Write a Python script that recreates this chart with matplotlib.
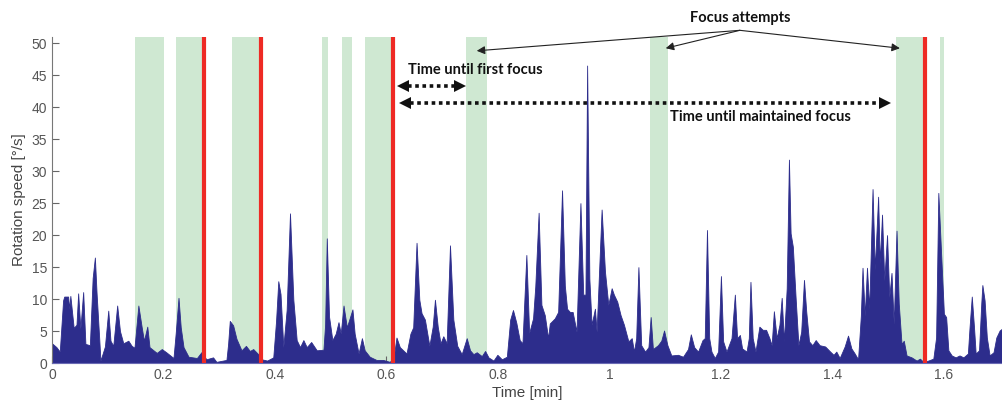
import matplotlib.pyplot as plt

# Tempo [min] e velocidade de rotacao [graus/s]
time_min = [
    0.000, 0.008, 0.014, 0.020, 0.022, 0.029, 0.031, 0.033, 0.039, 0.044,
    0.047, 0.051, 0.056, 0.060, 0.068, 0.073, 0.077, 0.080, 0.085, 0.087,
    0.095, 0.101, 0.105, 0.110, 0.117, 0.122, 0.128, 0.137, 0.143, 0.148,
    0.155, 0.161, 0.165, 0.171, 0.175, 0.188, 0.197, 0.205, 0.218, 0.222,
    0.227, 0.231, 0.236, 0.245, 0.260, 0.268, 0.277, 0.289, 0.295, 0.313,
    0.316, 0.319, 0.325, 0.331, 0.340, 0.348, 0.355, 0.361, 0.370, 0.376,
    0.386, 0.397, 0.402, 0.406, 0.410, 0.415, 0.421, 0.427, 0.433, 0.439,
    0.445, 0.451, 0.457, 0.465, 0.475, 0.487, 0.490, 0.493, 0.497, 0.503,
    0.509, 0.514, 0.518, 0.523, 0.529, 0.539, 0.543, 0.550, 0.556, 0.561,
    0.570, 0.582, 0.594, 0.606, 0.613, 0.618, 0.624, 0.630, 0.636, 0.643,
    0.648, 0.654, 0.659, 0.663, 0.669, 0.677, 0.683, 0.687, 0.692, 0.697,
    0.702, 0.708, 0.714, 0.720, 0.727, 0.735, 0.744, 0.750, 0.756, 0.762,
    0.771, 0.777, 0.783, 0.792, 0.799, 0.807, 0.816, 0.822, 0.827, 0.833,
    0.839, 0.844, 0.851, 0.856, 0.863, 0.867, 0.873, 0.878, 0.884, 0.890,
    0.893, 0.902, 0.908, 0.915, 0.920, 0.924, 0.929, 0.934, 0.941, 0.948,
    0.953, 0.957, 0.960, 0.964, 0.968, 0.974, 0.977, 0.986, 0.992, 0.998,
    1.004, 1.008, 1.014, 1.020, 1.026, 1.034, 1.040, 1.044, 1.048, 1.052,
    1.057, 1.064, 1.070, 1.074, 1.078, 1.087, 1.093, 1.098, 1.104, 1.111,
    1.123, 1.132, 1.141, 1.146, 1.152, 1.159, 1.167, 1.171, 1.175, 1.179,
    1.183, 1.189, 1.195, 1.200, 1.204, 1.210, 1.219, 1.225, 1.229, 1.234,
    1.238, 1.246, 1.250, 1.253, 1.257, 1.262, 1.269, 1.275, 1.281, 1.287,
    1.291, 1.295, 1.300, 1.305, 1.309, 1.313, 1.318, 1.322, 1.325, 1.329,
    1.334, 1.339, 1.344, 1.349, 1.353, 1.358, 1.364, 1.370, 1.377, 1.387,
    1.396, 1.402, 1.407, 1.413, 1.422, 1.428, 1.434, 1.440, 1.446, 1.451,
    1.454, 1.458, 1.462, 1.466, 1.472, 1.476, 1.482, 1.485, 1.489, 1.493,
    1.498, 1.502, 1.506, 1.510, 1.515, 1.519, 1.524, 1.528, 1.533, 1.542,
    1.551, 1.557, 1.563, 1.572, 1.581, 1.586, 1.590, 1.595, 1.600, 1.604,
    1.608, 1.614, 1.621, 1.628, 1.635, 1.643, 1.646, 1.650, 1.654, 1.657,
    1.663, 1.667, 1.669, 1.673, 1.677, 1.682, 1.689, 1.694, 1.700, 1.706,
]
speed = [
    3.1, 2.5, 1.8, 9.8, 10.4, 10.4, 8.5, 10.5, 5.5, 6.0,
    10.9, 5.4, 11.1, 3.0, 2.8, 13.3, 16.5, 11.0, 3.5, 0.4,
    2.6, 8.2, 3.5, 2.7, 9.0, 5.0, 3.1, 3.5, 2.7, 2.4,
    9.0, 5.6, 3.5, 5.7, 2.5, 1.6, 2.2, 1.7, 0.8, 4.7,
    10.2, 5.6, 2.5, 1.0, 0.8, 1.7, 0.6, 0.9, 0.2, 0.5,
    3.0, 6.6, 5.9, 3.8, 2.0, 2.7, 1.9, 2.2, 1.4, 0.6,
    0.4, 0.9, 6.6, 12.8, 10.8, 2.5, 8.3, 23.4, 9.9, 3.6,
    2.5, 3.6, 2.5, 3.3, 2.0, 2.1, 6.0, 19.5, 7.3, 3.6,
    4.6, 6.4, 4.6, 9.0, 5.6, 8.4, 4.6, 1.5, 3.9, 2.0,
    1.0, 0.5, 0.5, 0.2, 0.9, 4.0, 2.5, 2.0, 1.5, 4.6,
    5.6, 18.8, 9.9, 7.8, 6.8, 2.7, 5.7, 9.9, 5.7, 3.1,
    4.2, 3.1, 18.4, 6.8, 2.7, 1.4, 3.9, 2.0, 1.4, 1.7,
    1.1, 1.9, 0.9, 0.4, 1.3, 0.6, 1.0, 6.8, 8.3, 6.3,
    3.6, 3.1, 16.9, 4.7, 7.0, 12.0, 23.5, 9.1, 7.5, 3.9,
    6.2, 7.0, 8.0, 27.0, 12.1, 8.5, 8.0, 8.0, 4.9, 25.0,
    10.7, 10.7, 46.5, 13.2, 6.0, 8.5, 4.9, 24.0, 14.3, 9.1,
    11.7, 10.7, 9.6, 7.5, 6.0, 3.4, 3.9, 1.8, 3.9, 15.0,
    2.8, 1.8, 2.5, 7.2, 2.2, 2.8, 3.5, 5.1, 2.8, 1.2,
    1.3, 1.0, 2.2, 4.5, 2.5, 1.8, 3.6, 3.9, 20.8, 3.9,
    1.8, 0.8, 1.8, 13.6, 3.4, 1.8, 3.9, 10.7, 3.9, 4.4,
    2.3, 1.8, 3.9, 12.7, 3.9, 1.8, 5.7, 5.2, 5.2, 3.9,
    2.8, 8.1, 3.9, 6.0, 10.2, 3.4, 11.7, 31.8, 20.3, 18.2,
    10.2, 2.8, 4.9, 13.0, 8.1, 3.4, 2.8, 3.6, 2.8, 2.6,
    1.8, 1.3, 1.8, 0.8, 2.6, 4.3, 2.3, 1.5, 0.6, 7.4,
    14.9, 7.4, 14.9, 8.5, 27.2, 14.6, 26.0, 15.6, 23.2, 12.9,
    20.0, 10.3, 14.1, 6.1, 20.7, 9.3, 3.0, 3.5, 1.2, 0.9,
    0.4, 0.7, 0.2, 0.4, 0.7, 4.0, 26.6, 17.1, 7.7, 7.2,
    2.0, 1.2, 0.9, 1.2, 0.9, 1.5, 5.6, 10.4, 5.6, 1.5,
    2.0, 9.3, 12.2, 9.8, 4.0, 1.2, 1.7, 4.0, 5.1, 5.5,
]

# Tentativas de foco (faixas verdes) e foco obtido (linhas vermelhas)
attempt_start = [0.149, 0.222, 0.323, 0.484, 0.520, 0.561, 0.743, 1.073, 1.514, 1.593]
attempt_end = [0.201, 0.273, 0.375, 0.495, 0.538, 0.612, 0.780, 1.105, 1.566, 1.601]
focus_times = [0.273, 0.375, 0.612, 1.566]


def main():
    plt.rcParams['font.family'] = ['Liberation Sans', 'DejaVu Sans']
    fig = plt.figure(figsize=(10.03, 4.08), dpi=100)
    ax = fig.add_axes([0.0518, 0.110, 0.9482, 0.800])

    for a, b in zip(attempt_start, attempt_end):
        ax.axvspan(a, b, color='#cfe8d2', lw=0, zorder=1)

    ax.fill_between(time_min, speed, 0, color='#2d2d8c', lw=0.6, zorder=2)

    for t in focus_times:
        ax.axvline(t, color='#ee2a24', lw=3, zorder=3)

    ax.set_xlim(0, 1.706)
    ax.set_ylim(0, 51)
    ax.set_yticks(range(0, 51, 5))
    ax.set_xticks([0, 0.2, 0.4, 0.6, 0.8, 1, 1.2, 1.4, 1.6])
    ax.set_xticklabels(['0', '0.2', '0.4', '0.6', '0.8', '1', '1.2', '1.4', '1.6'])
    ax.tick_params(direction='in', length=5, colors='#666666', labelsize=10,
                   labelcolor='#555555')
    ax.spines['top'].set_visible(False)
    ax.spines['right'].set_visible(False)
    ax.spines['left'].set_color('#777777')
    ax.spines['bottom'].set_color('#6a6ab4')
    ax.set_xlabel('Time [min]', fontsize=11, color='#444444', labelpad=3)
    ax.set_ylabel('Rotation speed [°/s]', fontsize=11, color='#444444', labelpad=4)

    # Anotacoes
    bold = dict(family='Lato', fontweight='bold', fontsize=10.5, color='#111111')
    ax.text(1.234, 54.0, 'Focus attempts', ha='center', va='center',
            clip_on=False, **bold)
    for tip in [(0.762, 48.8), (1.101, 49.2), (1.521, 49.2)]:
        ax.annotate('', xy=tip, xytext=(1.234, 52.0), annotation_clip=False,
                    arrowprops=dict(arrowstyle='-|>', lw=0.8, color='#222222',
                                    mutation_scale=12, shrinkA=0, shrinkB=0))

    ax.text(0.639, 45.8, 'Time until first focus', ha='left', va='center', **bold)
    ax.text(1.109, 38.4, 'Time until maintained focus', ha='left', va='center', **bold)

    # Setas pontilhadas de duas pontas
    for x0, x1, y in [(0.621, 0.741, 43.3), (0.624, 1.503, 40.6)]:
        ax.plot([x0 + 0.018, x1 - 0.018], [y, y], color='#111111', lw=2.6,
                ls=(0, (1, 1)), zorder=4)
        ax.plot([x0 + 0.009], [y], marker='<', ms=8, color='#111111', mew=0, zorder=4)
        ax.plot([x1 - 0.009], [y], marker='>', ms=8, color='#111111', mew=0, zorder=4)

    plt.savefig('out.png', dpi=100)


if __name__ == '__main__':
    main()
